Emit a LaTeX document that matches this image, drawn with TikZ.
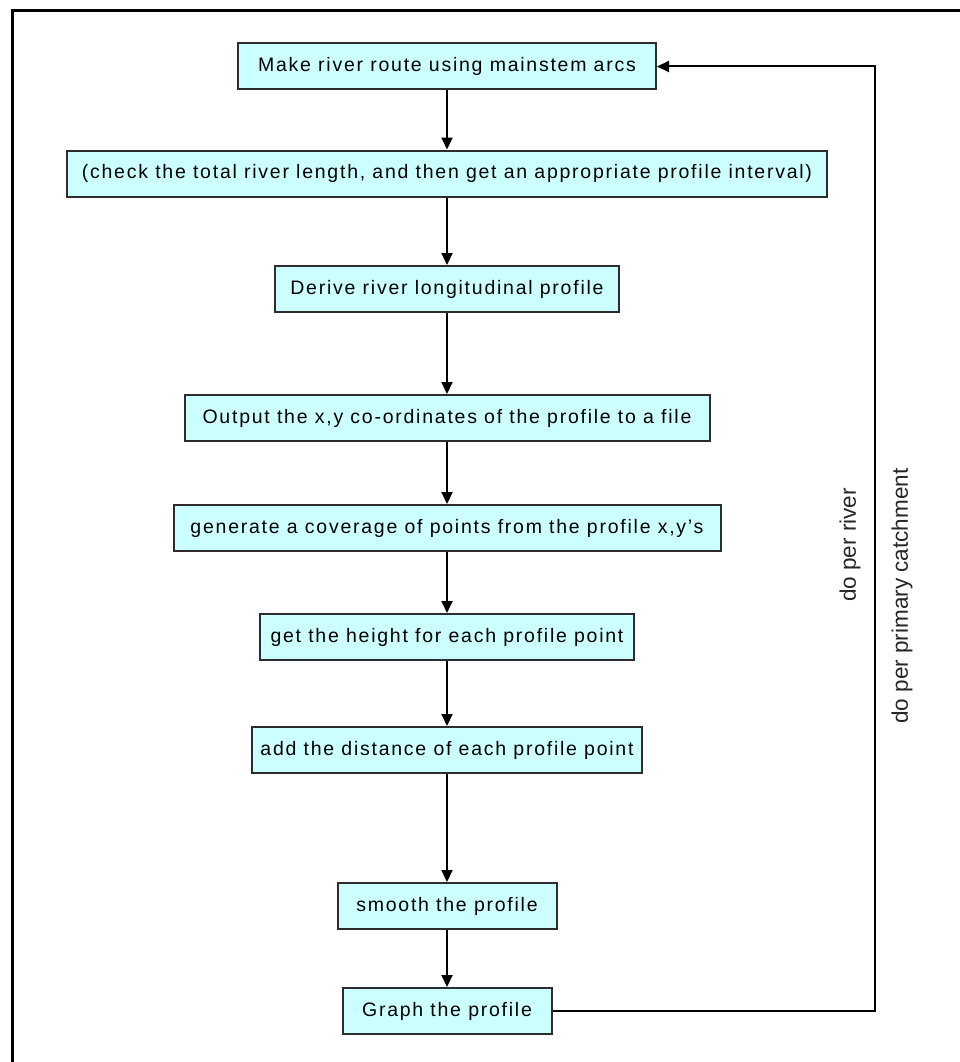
\documentclass[tikz,border=0pt]{standalone}
\usepackage{fontspec}
\setmainfont[LetterSpace=9]{Liberation Sans}
\newfontfamily\labfont{Liberation Sans}
\usetikzlibrary{arrows.meta}
\definecolor{boxfill}{RGB}{204,255,255}
\definecolor{boxline}{RGB}{45,45,45}
\tikzset{
  x=1pt, y=-1pt,
  box/.style={draw=boxline, line width=2pt, fill=boxfill, minimum height=46pt,
    inner sep=0pt, font=\fontsize{19.5}{23}\selectfont},
  flow/.style={line width=2pt, -{Triangle[length=12pt,width=11pt]}},
  looplabel/.style={rotate=90, font=\labfont\fontsize{22.5}{26}\selectfont, text=black!85}
}
\begin{document}
\begin{tikzpicture}
\useasboundingbox (0,0) rectangle (960,1062);
\fill[white] (0,0) rectangle (960,1062);
\draw[line width=3pt] (12,1062) -- (12,11) -- (960,11);

\node[box, minimum width=418pt] (b1) at (447,66.5) {Make river route using mainstem arcs};
\node[box, minimum width=760pt] (b2) at (447,173.5) {(check the total river length, and then get an appropriate profile interval)};
\node[box, minimum width=344pt] (b3) at (447,289) {Derive river longitudinal profile};
\node[box, minimum width=525pt] (b4) at (447,418) {Output the x,y co-ordinates of the profile to a file};
\node[box, minimum width=547pt] (b5) at (447,528) {generate a coverage of points from the profile x,y's};
\node[box, minimum width=374pt] (b6) at (447,637) {get the height for each profile point};
\node[box, minimum width=390pt] (b7) at (447,750) {add the distance of each profile point};
\node[box, minimum width=219pt] (b8) at (447,906) {smooth the profile};
\node[box, minimum width=209pt] (b9) at (447,1011) {Graph the profile};

\draw[flow] (b1) -- (b2);
\draw[flow] (b2) -- (b3);
\draw[flow] (b3) -- (b4);
\draw[flow] (b4) -- (b5);
\draw[flow] (b5) -- (b6);
\draw[flow] (b6) -- (b7);
\draw[flow] (b7) -- (b8);
\draw[flow] (b8) -- (b9);

\coordinate (c1) at (875,1011);
\coordinate (c2) at (875,66.5);
\draw[flow] (b9.east) -- (c1) -- (c2) -- (b1.east);

\node[looplabel] (l1) at (850,545) {do per river};
\node[looplabel] (l2) at (902,596) {do per primary catchment};
\end{tikzpicture}
\end{document}
